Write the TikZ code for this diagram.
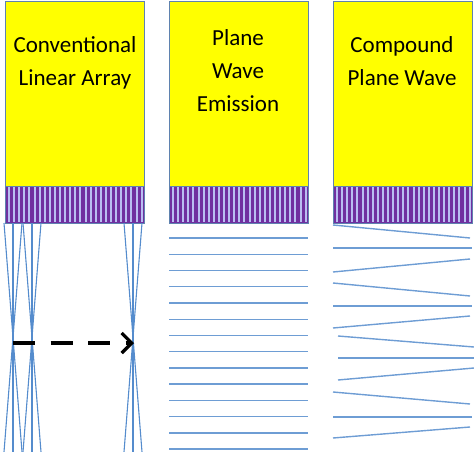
\documentclass[tikz,border=0pt]{standalone}
\usepackage{fontspec}
\setmainfont{Carlito}
\usetikzlibrary{arrows.meta}
\definecolor{yel}{RGB}{255,255,0}
\definecolor{pur}{RGB}{112,48,160}
\definecolor{stripecol}{RGB}{185,190,242}
\definecolor{edgecol}{RGB}{95,130,175}
\definecolor{beamcol}{RGB}{85,140,205}
\begin{document}
\begin{tikzpicture}[x=1pt,y=-1pt,
  panel/.style={draw=edgecol,line width=0.8pt,fill=yel,inner sep=0pt,minimum width=139pt,minimum height=185pt,anchor=north west},
  probe/.style={draw=edgecol,line width=0.8pt,fill=pur,inner sep=0pt,minimum width=139pt,minimum height=37pt,anchor=north west},
  lbl/.style={font=\fontsize{23}{32}\selectfont,anchor=base,inner sep=0pt},
  ray/.style={draw=beamcol,line width=1.1pt},
  wave/.style={draw=beamcol!85!white,line width=1.4pt}]
\useasboundingbox (0,0) rectangle (474,452);
% panels
\node[panel] (p1) at (5,1) {};
\node[panel] (p2) at (169,1) {};
\node[panel] (p3) at (333,1) {};
% probes
\foreach \L/\n in {5/1,169/2,333/3}{
  \node[probe] (t\n) at (\L,186) {};
  \foreach \i in {0,...,26}{
    \fill[stripecol] (\L+3+\i*5.1,186.6) rectangle ++(2,35.8);
  }
  \draw[edgecol,line width=0.8pt] (t\n.north west) rectangle (t\n.south east);
}
% labels
\node[lbl] (c1a) at (75,53) {Conventional};
\node[lbl] (c1b) at (75,85) {Linear Array};
\node[lbl] (c2a) at (238,46) {Plane};
\node[lbl] (c2b) at (238,78) {Wave};
\node[lbl] (c2c) at (238,111) {Emission};
\node[lbl] (c3a) at (402,53) {Compound};
\node[lbl] (c3b) at (402,85) {Plane Wave};
% focused beams
\foreach \c in {13,32,133}{
  \draw[ray] (\c-9,223) -- (\c+9,452);
  \draw[ray] (\c+9,223) -- (\c-9,452);
  \draw[ray] (\c,223) -- (\c,452);
}
% scan arrow
\coordinate (as) at (13,343);
\coordinate (ae) at (134,343);
\draw[line width=3.2pt,dash pattern=on 22pt off 15.5pt,
  -{Straight Barb[length=10pt,width=20pt,line width=3.2pt]}] (as) -- (ae);
% plane waves
\foreach \y in {238,254.2,270.5,286.7,302.9,319.2,335.4,351.6,367.8,384.1,400.3,416.5,432.8,449}{
  \draw[wave] (169,\y) -- (308,\y);
}
% compound plane waves
\draw[wave] (333,225) -- (470,238);
\draw[wave] (333,248) -- (472,248);
\draw[wave] (333,272) -- (470,259);
\draw[wave] (333,283) -- (470,296);
\draw[wave] (333,306) -- (472,306);
\draw[wave] (333,328) -- (470,316);
\draw[wave] (338,336) -- (474,347);
\draw[wave] (338,358) -- (474,358);
\draw[wave] (338,380) -- (474,368);
\draw[wave] (333,392) -- (470,404);
\draw[wave] (333,417) -- (472,417);
\draw[wave] (333,438) -- (470,427);
\end{tikzpicture}
\end{document}
